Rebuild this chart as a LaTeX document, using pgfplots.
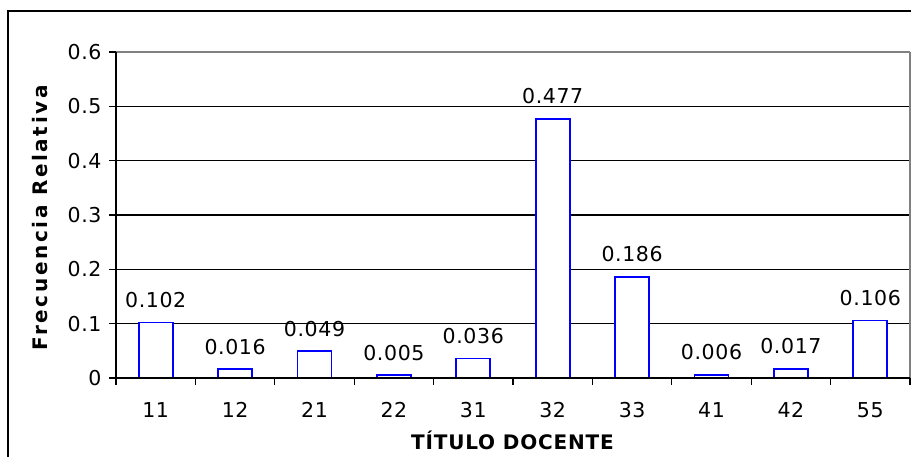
\documentclass[border=0pt]{standalone}
\usepackage{fontspec}
\setmainfont{DejaVu Sans}
\newfontfamily\lblfont[LetterSpace=3]{DejaVu Sans}
\newfontfamily\ylblfont[LetterSpace=13]{DejaVu Sans}
\newfontfamily\xlblfont[LetterSpace=4]{DejaVu Sans}
\usepackage{pgfplots}
\pgfplotsset{compat=1.18}
\pgfplotstableread{
x y
0 0.102
1 0.016
2 0.049
3 0.005
4 0.036
5 0.477
6 0.186
7 0.006
8 0.017
9 0.106
}\datatable
\begin{document}
\begin{tikzpicture}[x=1pt,y=1pt]
\useasboundingbox (0,0) rectangle (911,457);
\fill[white] (0,0) rectangle (911,457);
\draw[line width=2pt, black] (8.3,-20) rectangle (940,446.2);
\begin{axis}[
  at={(116pt,79pt)}, anchor=south west,
  scale only axis, width=794pt, height=326pt,
  xmin=-0.5, xmax=9.5, ymin=0, ymax=0.6,
  axis lines=box,
  axis line style={draw=none},
  xtick={0,...,9},
  xticklabels={11,12,21,22,31,32,33,41,42,55},
  minor xtick={-0.5,0.5,...,9.5},
  ytick={0,0.1,0.2,0.3,0.4,0.5,0.6},
  yticklabels={0,0.1,0.2,0.3,0.4,0.5,0.6},
  tick align=outside,
  xtick pos=left, ytick pos=left,
  major x tick style={draw=none},
  major tick length=7pt,
  minor tick length=7pt,
  every tick/.style={black, line width=1.3pt},
  tick label style={font=\fontsize{20.5}{24}\lblfont},
  xticklabel style={yshift=-14pt},
  yticklabel style={xshift=-4pt},
  ymajorgrids,
  grid style={black, line width=1.5pt},
  /pgf/number format/assume math mode=true,
  clip=false,
]
\addplot[ybar, bar width=34pt, draw={rgb,255:red,0;green,0;blue,255}, fill=white, line width=1.8pt,
  nodes near coords,
  nodes near coords style={font=\fontsize{20.5}{24}\lblfont, black, yshift=10.5pt,
    /pgf/number format/.cd, fixed, fixed zerofill, precision=3, assume math mode=true},
] table[x=x,y=y] {\datatable};
\draw[gray, line width=2.2pt] (rel axis cs:0,1) -- (rel axis cs:1,1);
\draw[gray, line width=1.3pt] (rel axis cs:1,0) -- (rel axis cs:1,1);
\draw[black, line width=1.5pt] (rel axis cs:0,0) -- (rel axis cs:0,1);
\draw[black, line width=1.5pt] (rel axis cs:0,0) -- (rel axis cs:1,0);
\end{axis}
\node[rotate=90, anchor=base, font=\fontsize{20}{24}\ylblfont\bfseries] at (47,239) {Frecuencia Relativa};
\node[anchor=base, font=\fontsize{20}{24}\xlblfont\bfseries] at (512.5,7) {TÍTULO DOCENTE};
\end{tikzpicture}
\end{document}
